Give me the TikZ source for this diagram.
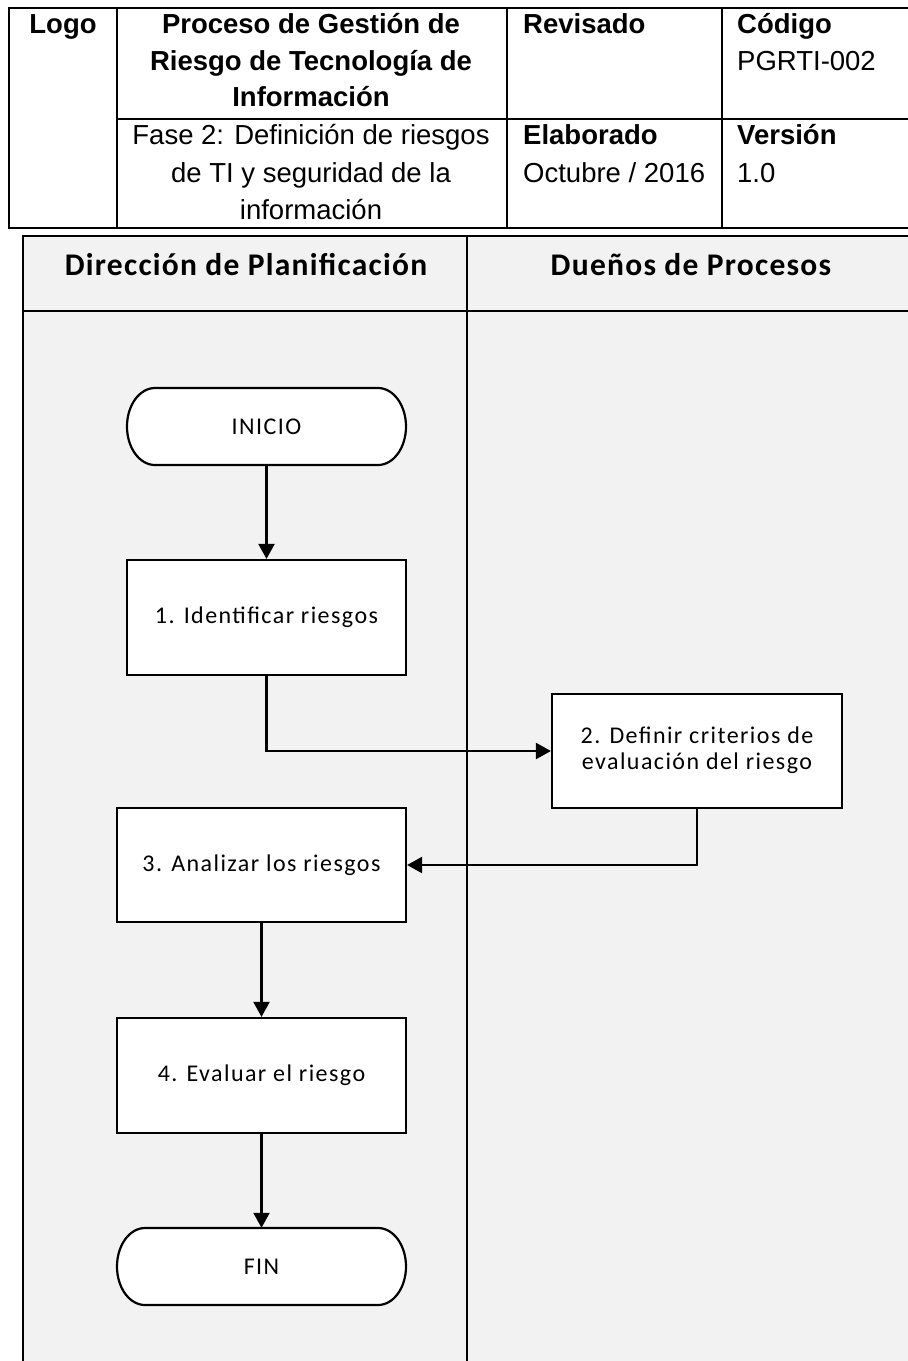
\documentclass[tikz,border=0pt]{standalone}
\usepackage{fontspec}
\setmainfont{Liberation Sans}
\newfontfamily\flowfont[LetterSpace=6]{Carlito}
\newfontfamily\lanefont[LetterSpace=4]{Carlito}
\usetikzlibrary{arrows.meta}
\definecolor{lanegray}{HTML}{F2F2F2}
\begin{document}
\begin{tikzpicture}[x=1pt,y=-1pt,
  tbl/.style={line width=2pt},
  lane/.style={line width=2.6pt},
  cellb/.style={font=\fontsize{27.5}{36}\selectfont\bfseries, inner sep=0pt},
  cellr/.style={font=\fontsize{27.5}{36}\selectfont, inner sep=0pt},
  lanehead/.style={font=\lanefont\bfseries\fontsize{31.5}{33}\selectfont, inner sep=0pt, anchor=base},
  proc/.style={draw, line width=2.2pt, fill=white, align=center, inner sep=0pt,
    font=\flowfont\fontsize{24}{27}\selectfont},
  termtext/.style={inner sep=0pt, font=\flowfont\fontsize{24}{27}\selectfont},
  termline/.style={draw, line width=2.2pt, fill=white},
  conn/.style={line width=2.2pt, -{Triangle[length=15pt,width=16pt]}}
]
\useasboundingbox (0,0) rectangle (908,1361);

% ---------- header table ----------
\draw[tbl] (9,8) rectangle (915,228);
\draw[tbl] (117,8) -- (117,228);
\draw[tbl] (507,8) -- (507,228);
\draw[tbl] (722,8) -- (722,228);
\draw[tbl] (117,119) -- (915,119);

\node[cellb, anchor=base] (logo) at (63,33) {Logo};
\node[cellb, anchor=base] (tit1) at (311,33) {Proceso de Gestión de};
\node[cellb, anchor=base] (tit2) at (311,70) {Riesgo de Tecnología de};
\node[cellb, anchor=base] (tit3) at (311,106) {Información};
\node[cellr, anchor=base] (fas1) at (311,144) {Fase 2: Definición de riesgos};
\node[cellr, anchor=base] (fas2) at (311,182) {de TI y seguridad de la};
\node[cellr, anchor=base] (fas3) at (311,219) {información};
\node[cellb, anchor=base west] (rev) at (523,33) {Revisado};
\node[cellb, anchor=base west] (ela) at (523,144) {Elaborado};
\node[cellr, anchor=base west] (fecha) at (523,182) {Octubre / 2016};
\node[cellb, anchor=base west] (cod) at (737,33) {Código};
\node[cellr, anchor=base west] (codv) at (737,70) {PGRTI-002};
\node[cellb, anchor=base west] (ver) at (737,144) {Versión};
\node[cellr, anchor=base west] (verv) at (737,182) {1.0};

% ---------- swimlanes ----------
\draw[lane, fill=lanegray] (23,236) rectangle (915,1370);
\draw[lane] (467,236) -- (467,1370);
\draw[lane] (23,311) -- (915,311);
\node[lanehead] (lane1) at (246,275) {Dirección de Planificación};
\node[lanehead] (lane2) at (691,275) {Dueños de Procesos};

% ---------- terminals ----------
\draw[termline] (155,388) -- (378,388)
  arc[start angle=90, end angle=-90, x radius=28pt, y radius=38.5pt]
  -- (155,465)
  arc[start angle=270, end angle=90, x radius=28pt, y radius=38.5pt] -- cycle;
\node[termtext, minimum width=279pt, minimum height=77pt] (inicio) at (266.5,426.5) {INICIO};

\draw[termline] (145,1228) -- (378,1228)
  arc[start angle=90, end angle=-90, x radius=28pt, y radius=38.5pt]
  -- (145,1305)
  arc[start angle=270, end angle=90, x radius=28pt, y radius=38.5pt] -- cycle;
\node[termtext, minimum width=289pt, minimum height=77pt] (fin) at (261.5,1266.5) {FIN};

% ---------- process boxes ----------
\node[proc, minimum width=279pt, minimum height=115pt] (b1) at (266.5,617.5) {1. Identificar riesgos};
\node[proc, minimum width=290pt, minimum height=114pt] (b2) at (697,751) {\raisebox{-4pt}{\begin{tabular}{@{}c@{}}2. Definir criterios de\\[-1pt]evaluación del riesgo\end{tabular}}};
\node[proc, minimum width=289pt, minimum height=114pt] (b3) at (261.5,865) {3. Analizar los riesgos};
\node[proc, minimum width=289pt, minimum height=115pt] (b4) at (261.5,1075.5) {4. Evaluar el riesgo};

% ---------- connectors ----------
\draw[conn] (inicio.south) -- (b1.north);
\draw[conn] (b1.south) |- (b2.west);
\draw[conn] (b2.south) |- (b3.east);
\draw[conn] (b3.south) -- (b4.north);
\draw[conn] (b4.south) -- (fin.north);
\end{tikzpicture}
\end{document}
